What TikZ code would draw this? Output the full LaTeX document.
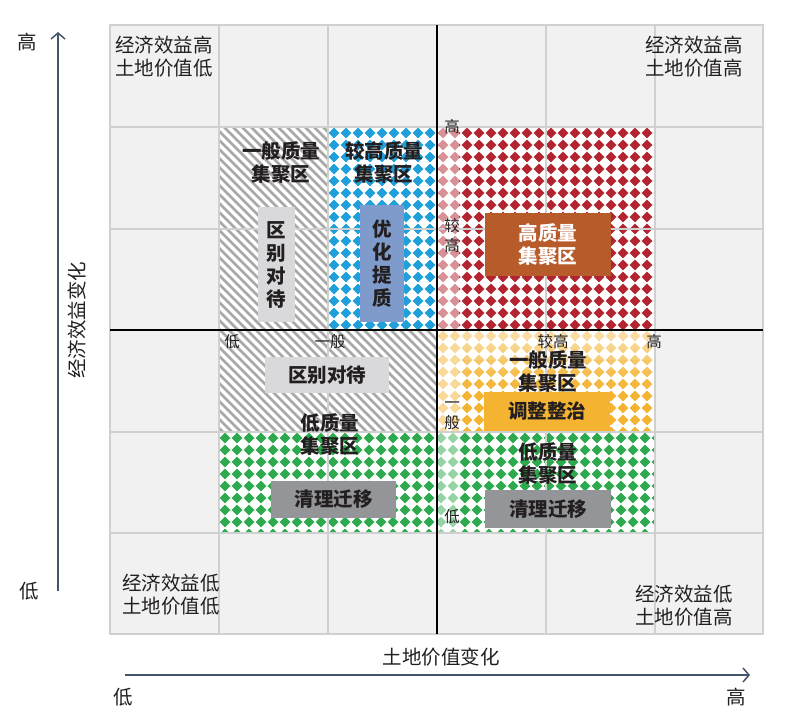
\documentclass[tikz,border=0pt]{standalone}
\usepackage{fontspec}
\setmainfont{Noto Sans CJK SC}
\usetikzlibrary{arrows.meta}
\definecolor{cellgray}{HTML}{F1F1F1}
\definecolor{gridgray}{HTML}{D0D0D0}
\definecolor{axisblue}{HTML}{44546A}
\definecolor{textdark}{HTML}{231F20}
\definecolor{ruby}{HTML}{B22430}
\definecolor{skyblue}{HTML}{1FA0DB}
\definecolor{amber}{HTML}{F4B331}
\definecolor{leaf}{HTML}{2EAA4E}
\definecolor{hatch}{HTML}{A8A8A8}
\definecolor{rust}{HTML}{B85B2A}
\definecolor{slateb}{HTML}{7F9BCC}
\definecolor{paleg}{HTML}{D9D9DB}
\definecolor{midg}{HTML}{939598}
\newcommand\bigfont{\fontsize{19.5}{23}\selectfont}
\newcommand\smallfont{\fontsize{15.5}{20}\selectfont}
\tikzset{
    note/.style =   {text=textdark,
                    align=center,
                    inner sep=0pt,
                    font=\bigfont},
    scalelabel/.style = {text=textdark,
                    align=center,
                    inner sep=0pt,
                    font=\smallfont},
    zonetitle/.style = {text=textdark,
                    align=center,
                    inner sep=0pt,
                    font=\bigfont\bfseries},
    tagbox/.style = {rectangle,
                    text=textdark,
                    align=center,
                    inner sep=0pt,
                    font=\bigfont\bfseries},
    gridline/.style = {draw=gridgray,
                    line width=1.3pt},
    midline/.style = {draw=black,
                    line width=2pt},
    axis/.style =   {draw=axisblue,
                    line width=1.5pt,
                    -{Straight Barb[length=6pt,width=14pt,line width=1.5pt]}},
    hatchline/.style = {draw=hatch,
                    line width=2.7pt},
    -,
    x=1pt,
    y=-1pt}

\begin{document}
\begin{tikzpicture}
    \useasboundingbox (0,0) rectangle (788,721);

    % cells
    \fill[cellgray] (110,25) rectangle (763,634);
    \fill[white] (219,127) rectangle (655,533);

    % hatched zone
    \begin{scope}
        \clip (219,127) rectangle (328,330) (219,330) rectangle (437,432);
        \foreach \k in {0,...,60}
            \draw[hatchline] (-100+\k*9,127) -- ++(320,320);
    \end{scope}

    % diamond zones
    \begin{scope}
        \clip (328,127) rectangle (437,330);
        \foreach \i in {0,...,9}
            \foreach \j in {0,...,17}
                \fill[skyblue] (328.5+\i*12,127+6+\j*12) -- ++(5.5,-5.3) -- ++(5.5,5.3) -- ++(-5.5,5.3) -- cycle;
    \end{scope}
    \begin{scope}
        \clip (437,127) rectangle (655,330);
        \foreach \i in {0,...,18}
            \foreach \j in {0,...,17}
                \fill[ruby] (437.5+\i*12,127+6+\j*12) -- ++(5.5,-5.3) -- ++(5.5,5.3) -- ++(-5.5,5.3) -- cycle;
    \end{scope}
    \begin{scope}
        \clip (437,330) rectangle (655,432);
        \foreach \i in {0,...,18}
            \foreach \j in {0,...,8}
                \fill[amber] (437.5+\i*12,330+6+\j*12) -- ++(5.5,-5.3) -- ++(5.5,5.3) -- ++(-5.5,5.3) -- cycle;
    \end{scope}
    \begin{scope}
        \clip (219,432) rectangle (655,533);
        \foreach \i in {0,...,36}
            \foreach \j in {0,...,8}
                \fill[leaf] (219.5+\i*12,432+6+\j*12) -- ++(5.5,-5.3) -- ++(5.5,5.3) -- ++(-5.5,5.3) -- cycle;
    \end{scope}

    % faded strips
    \fill[white, opacity=0.5] (437,127) rectangle (459,533);
    \foreach \k/\o in {0/0.55,1/0.45,2/0.35,3/0.25,4/0.15,5/0.08}
        \fill[white, opacity=\o] (459,330+\k*10) rectangle (655,340+\k*10);

    % grid
    \foreach \gx in {219,328,546,655}
        \draw[gridline] (\gx,25) -- (\gx,634);
    \foreach \gy in {127,229,432,533}
        \draw[gridline] (110,\gy) -- (763,\gy);
    \draw[gridline] (110,25) rectangle (763,634);
    \draw[midline] (437,25) -- (437,634);
    \draw[midline] (110,330) -- (763,330);

    % axes
    \coordinate (yfoot) at (58,591);
    \coordinate (ytip)  at (58,32);
    \coordinate (xfoot) at (125,675);
    \coordinate (xtip)  at (750,675);
    \draw[axis] (yfoot) -- (ytip);
    \draw[axis] (xfoot) -- (xtip);

    \node[note]         (yhi)  at (27,42)   {高};
    \node[note]         (ylo)  at (29,591)  {低};
    \node[note]         (xlo)  at (123,697) {低};
    \node[note]         (xhi)  at (736,697) {高};
    \node[note, rotate=90] (ylab) at (77,320) {经济效益变化};
    \node[note]         (xlab) at (441,657) {土地价值变化};

    % corner notes
    \node[note, align=left] (tl) at (164,57)  {经济效益高\\土地价值低};
    \node[note, align=left] (tr) at (694,57)  {经济效益高\\土地价值高};
    \node[note, align=left] (bl) at (171,595) {经济效益低\\土地价值低};
    \node[note, align=left] (br) at (684,606) {经济效益低\\土地价值高};

    % scale labels
    \node[scalelabel]   (s1) at (452,127) {高};
    \node[scalelabel]   (s2) at (452,236) {较\\高};
    \node[scalelabel]   (s3) at (452,416) {一\\般};
    \node[scalelabel]   (s4) at (452,517) {低};
    \node[scalelabel]   (s5) at (232,342) {低};
    \node[scalelabel]   (s6) at (330,342) {一般};
    \node[scalelabel]   (s7) at (553,342) {较高};
    \node[scalelabel]   (s8) at (654,342) {高};

    % zone titles
    \node[zonetitle]    (ybzl)  at (281,162) {一般质量\\集聚区};
    \node[zonetitle]    (jgzl)  at (384,162) {较高质量\\集聚区};
    \node[zonetitle]    (dzl1)  at (330,434) {低质量\\集聚区};
    \node[zonetitle]    (ybzl2) at (548,371) {一般质量\\集聚区};
    \node[zonetitle]    (dzl2)  at (548,463) {低质量\\集聚区};

    % tag boxes
    \node[tagbox, fill=rust, text=white, minimum width=126pt, minimum height=63pt] (gzl) at (548,244.5) {高质量\\集聚区};
    \node[tagbox, fill=paleg, minimum width=37pt, minimum height=115pt] (qbdd1) at (276.5,264.5) {区\\别\\对\\待};
    \node[tagbox, fill=slateb, minimum width=44pt, minimum height=117pt] (yhtz) at (382,263.5) {优\\化\\提\\质};
    \node[tagbox, fill=paleg, minimum width=124pt, minimum height=36pt] (qbdd2) at (327,375) {区别对待};
    \node[tagbox, fill=midg, minimum width=125pt, minimum height=37pt] (qlqy1) at (333.5,499.5) {清理迁移};
    \node[tagbox, fill=amber, minimum width=126pt, minimum height=39pt] (tzzz) at (547,411.5) {调整整治};
    \node[tagbox, fill=midg, minimum width=126pt, minimum height=38pt] (qlqy2) at (548,509) {清理迁移};
\end{tikzpicture}
\end{document}
